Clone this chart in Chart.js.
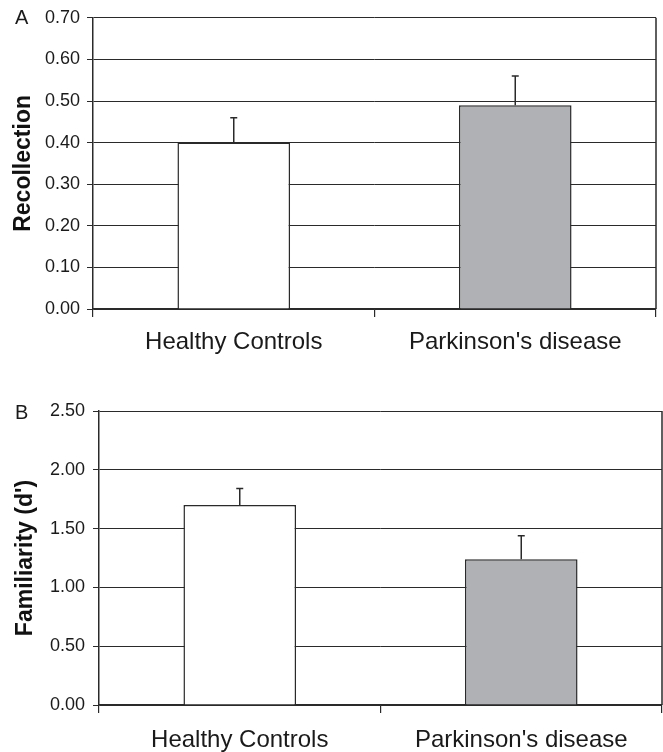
<!DOCTYPE html>
<html>
<head>
<meta charset="utf-8">
<script src="https://cdn.jsdelivr.net/npm/chart.js@4/dist/chart.umd.min.js"></script>
<style>
  html, body { margin: 0; padding: 0; background: #fff; }
  body { width: 663px; height: 752px; position: relative; overflow: hidden; font-family: "Liberation Sans", Arial, sans-serif; }
  .panel { position: absolute; left: 0; width: 663px; }
  #wrapA { top: 0; height: 360px; }
  #wrapB { top: 360px; height: 392px; }
  .plabel { position: absolute; font-size: 20px; color: #1a1a1a; line-height: 1; }
</style>
</head>
<body>
<div class="panel" id="wrapA"><canvas id="chartA"></canvas></div>
<div class="panel" id="wrapB"><canvas id="chartB"></canvas></div>
<div class="plabel" style="left:15px; top:7px;">A</div>
<div class="plabel" style="left:15px; top:402px;">B</div>
<script>
// ---- data ----
const categories = ["Healthy Controls", "Parkinson's disease"];
const recollection = [0.40, 0.49];
const recollectionErr = [0.06, 0.07];
const familiarity = [1.70, 1.24];
const familiarityErr = [0.14, 0.20];
const recollectionTicks = { min: 0, max: 0.7, step: 0.1 };
const familiarityTicks = { min: 0, max: 2.5, step: 0.5 };
const barColors = ["#ffffff", "#b0b1b4"];

const FONT = '"Liberation Sans", Arial, sans-serif';
const INK = '#2a2a2a';

const errorBarPlugin = {
  id: 'errorBars',
  afterDatasetsDraw(chart) {
    const errs = chart.options.plugins.errorBars.errors;
    const meta = chart.getDatasetMeta(0);
    const ds = chart.data.datasets[0];
    const y = chart.scales.y;
    const ctx = chart.ctx;
    ctx.save();
    ctx.strokeStyle = INK;
    ctx.lineWidth = 1.5;
    meta.data.forEach((bar, i) => {
      const x = bar.x;
      const y0 = y.getPixelForValue(ds.data[i]);
      const y1 = y.getPixelForValue(ds.data[i] + errs[i]);
      ctx.beginPath();
      ctx.moveTo(x, y0);
      ctx.lineTo(x, y1);
      ctx.moveTo(x - 3.5, y1);
      ctx.lineTo(x + 3.5, y1);
      ctx.stroke();
    });
    ctx.restore();
  }
};

const frameRightPlugin = {
  id: 'frameRight',
  afterDraw(chart) {
    const a = chart.chartArea;
    const ctx = chart.ctx;
    ctx.save();
    ctx.strokeStyle = INK;
    ctx.lineWidth = 1.5;
    ctx.beginPath();
    ctx.moveTo(a.right, a.top);
    ctx.lineTo(a.right, a.bottom);
    ctx.stroke();
    ctx.restore();
  }
};

function makeChart(id, values, errs, ticksDef, title, cfg) {
  return new Chart(document.getElementById(id), {
    type: 'bar',
    data: {
      labels: categories,
      datasets: [{
        data: values,
        backgroundColor: barColors,
        borderColor: INK,
        borderWidth: 1.5,
        barPercentage: 0.4,
        categoryPercentage: 1.0
      }]
    },
    options: {
      responsive: true,
      maintainAspectRatio: false,
      animation: false,
      layout: { padding: { top: cfg.top, right: cfg.right, left: 0, bottom: 0 } },
      plugins: {
        legend: { display: false },
        tooltip: { enabled: false },
        errorBars: { errors: errs }
      },
      scales: {
        x: {
          offset: true,
          grid: { display: true, drawOnChartArea: false, drawTicks: true, tickLength: 8, color: INK, lineWidth: 1.2, offset: true },
          border: { display: true, color: INK, width: 1.5 },
          ticks: { color: '#1a1a1a', font: { family: FONT, size: 24 }, padding: cfg.xPad, maxRotation: 0 },
          afterFit(scale) { scale.height = cfg.xHeight; }
        },
        y: {
          min: ticksDef.min,
          max: ticksDef.max,
          grid: { color: INK, lineWidth: 1, tickLength: 6, drawTicks: true },
          border: { display: true, color: INK, width: 1.5 },
          ticks: {
            stepSize: ticksDef.step,
            color: '#1a1a1a',
            font: { family: FONT, size: 18 },
            padding: cfg.yPad,
            callback: v => Number(v).toFixed(2)
          },
          title: {
            display: true,
            text: title,
            color: '#111',
            font: { family: FONT, size: 23, weight: 'bold' },
            padding: { top: cfg.titlePad, bottom: 0 }
          },
          afterFit(scale) { scale.width = cfg.yWidth; }
        }
      }
    },
    plugins: [errorBarPlugin, frameRightPlugin]
  });
}

makeChart('chartA', recollection, recollectionErr, recollectionTicks, 'Recollection',
  { top: 15, right: 7, xHeight: 51, yWidth: 93, xPad: 11, yPad: 7, titlePad: 10 });
makeChart('chartB', familiarity, familiarityErr, familiarityTicks, "Familiarity (d')",
  { top: 51, right: 1, xHeight: 47, yWidth: 99, xPad: 13, yPad: 8, titlePad: 12 });
</script>
</body>
</html>
